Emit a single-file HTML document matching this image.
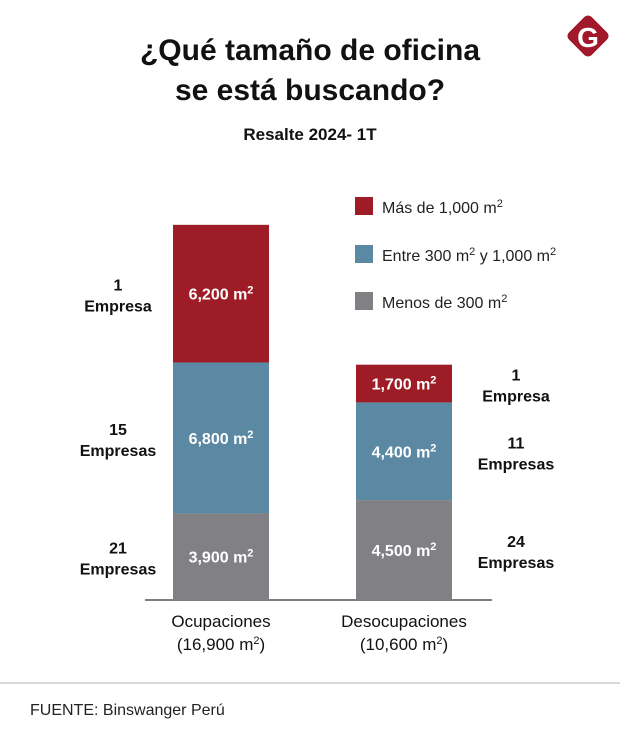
<!DOCTYPE html>
<html><head><meta charset="utf-8"><style>
body{margin:0;background:#fff;}
svg{display:block;font-family:"Liberation Sans",sans-serif;}
</style></head><body>
<svg id="chart" width="620" height="740" viewBox="0 0 620 740">
<text x="310" y="60" text-anchor="middle" font-size="30" font-weight="bold" fill="#111">¿Qué tamaño de oficina</text>
<text x="310" y="100" text-anchor="middle" font-size="30" font-weight="bold" fill="#111">se está buscando?</text>
<text x="310" y="140" text-anchor="middle" font-size="17" font-weight="bold" fill="#111">Resalte 2024- 1T</text>
<g>
<rect x="572" y="20" width="32" height="32" rx="5" fill="#a0182a" transform="rotate(45 588 36)"/>
<text x="588" y="47" text-anchor="middle" font-size="28" font-weight="bold" fill="#fff">G</text>
</g>
<g>
<rect x="355" y="197" width="18" height="18" fill="#9e1c26"/>
<text x="382" y="213" font-size="16" fill="#222">Más de 1,000 m<tspan dy="-6" font-size="11">2</tspan></text>
<rect x="355" y="245" width="18" height="18" fill="#5b88a3"/>
<text x="382" y="261" font-size="16" fill="#222">Entre 300 m<tspan dy="-6" font-size="11">2</tspan><tspan dy="6"> y 1,000 m</tspan><tspan dy="-6" font-size="11">2</tspan></text>
<rect x="355" y="292" width="18" height="18" fill="#808085"/>
<text x="382" y="308" font-size="16" fill="#222">Menos de 300 m<tspan dy="-6" font-size="11">2</tspan></text>
</g>
<line x1="145" y1="600" x2="492" y2="600" stroke="#555" stroke-width="1.5"/>
<g id="bars"></g>
<line x1="0" y1="683" x2="620" y2="683" stroke="#ccc" stroke-width="1.5"/>
<text x="30" y="715" font-size="16" fill="#222">FUENTE: Binswanger Perú</text>
</svg>
<script>
const categories = ["Ocupaciones", "Desocupaciones"];
const totals = ["16,900", "10,600"];
const smallVals = [3900, 4500];
const mediumVals = [6800, 4400];
const largeVals = [6200, 1700];
const smallCounts = ["21", "24"];
const mediumCounts = ["15", "11"];
const largeCounts = ["1", "1"];

const NS = "http://www.w3.org/2000/svg";
const g = document.getElementById("bars");
const base = 600, scale = 0.0222;
const xs = i => 173 + i * 183;
const bw = 96;
const yv = v => v * scale;
function fmt(v){return v.toLocaleString("en-US");}
function el(tag, attrs){const e=document.createElementNS(NS,tag);for(const k in attrs)e.setAttribute(k,attrs[k]);g.appendChild(e);return e;}
const segs = [
  {vals: smallVals, counts: smallCounts, color: "#808085", key: "small"},
  {vals: mediumVals, counts: mediumCounts, color: "#5b88a3", key: "medium"},
  {vals: largeVals, counts: largeCounts, color: "#9e1c26", key: "large"}
];
categories.forEach((c, i) => {
  let y = base;
  const x = xs(i);
  segs.forEach(s => {
    const h = yv(s.vals[i]);
    y -= h;
    const r = el("rect", {x: x, y: y, width: bw, height: h, fill: s.color});
    
    
    const t = el("text", {x: x + bw/2, y: y + h/2 + 6, "text-anchor": "middle", "font-size": "16", "font-weight": "bold", fill: "#fff"});
    t.innerHTML = fmt(s.vals[i]) + ' m<tspan dy="-6" font-size="11">2</tspan>';
    
    
    const cx = i === 0 ? 118 : 516;
    const n = s.counts[i];
    const ct = el("text", {x: cx, y: y + h/2 - 3, "text-anchor": "middle", "font-size": "16", "font-weight": "bold", fill: "#111"});
    ct.innerHTML = '<tspan x="' + cx + '">' + n + '</tspan><tspan x="' + cx + '" dy="21">' + (n === "1" ? "Empresa" : "Empresas") + '</tspan>';
    
    
  });
  const lbl = el("text", {x: x + bw/2, y: 627, "text-anchor": "middle", "font-size": "17", fill: "#111"});
  lbl.innerHTML = '<tspan x="' + (x + bw/2) + '">' + c + '</tspan><tspan x="' + (x + bw/2) + '" dy="23">(' + totals[i] + ' m<tspan dy="-6" font-size="11">2</tspan><tspan dy="6">)</tspan></tspan>';
  
  
});
</script>
</body></html>
